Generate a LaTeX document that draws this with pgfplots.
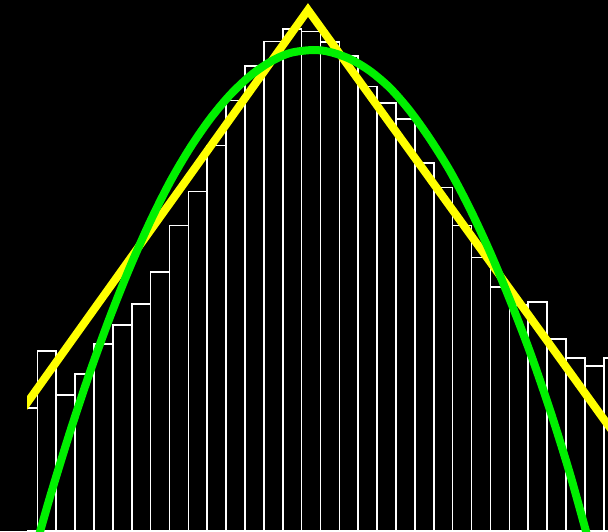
\documentclass[border=0pt]{standalone}
\usepackage{pgfplots}
\pgfplotsset{compat=1.18}
\definecolor{ylw}{RGB}{255,255,0}
\definecolor{grn}{RGB}{0,240,0}
\begin{document}
\begin{tikzpicture}
\fill[black] (0,0) rectangle (608pt,531pt);
\begin{axis}[
  at={(27pt,0pt)}, anchor=south west,
  scale only axis, width=581pt, height=531pt,
  xmin=27, xmax=608, ymin=10, ymax=541,
  hide axis, clip=true,
]
\addplot[ybar interval, draw=white, fill=none, line width=1.6pt] coordinates {
(18.42,133) (37.30,190.3) (56.18,146) (75.06,167.3) (93.94,197) (112.82,216)
(131.70,237.3) (150.58,268.7) (169.46,315.3) (188.34,349.3) (207.22,395.3)
(226.10,440.3) (244.98,474.7) (263.86,499.3) (282.74,512) (301.62,509.3)
(320.50,499) (339.38,485) (358.26,454.3) (377.14,437.7) (396.02,422)
(414.90,377.7) (433.78,353.3) (452.66,315.3) (471.54,283.3) (490.42,254)
(509.30,236) (528.18,239) (547.06,202) (565.94,183) (584.82,175)
(603.70,183) (622.58,183)
};
\addplot[ylw, line width=8pt, miter limit=10, line join=miter] coordinates {
(0,100.2) (308,531) (620,99.4)
};
\addplot[grn, line width=8pt, smooth] coordinates {
(36,-5) (50,44) (70,109) (90,169) (110,224) (130,274) (150,319) (170,359)
(190,393) (210,422) (230,446) (250,465) (270,479) (290,488) (313,491)
(330,489) (350,482) (370,470) (390,453) (410,430) (430,402) (450,370)
(470,332) (490,289) (510,241) (530,189) (550,131) (570,67) (590,-5)
};
\end{axis}
\pgfresetboundingbox
\path[use as bounding box] (0,0) rectangle (608pt,531pt);
\end{tikzpicture}
\end{document}
